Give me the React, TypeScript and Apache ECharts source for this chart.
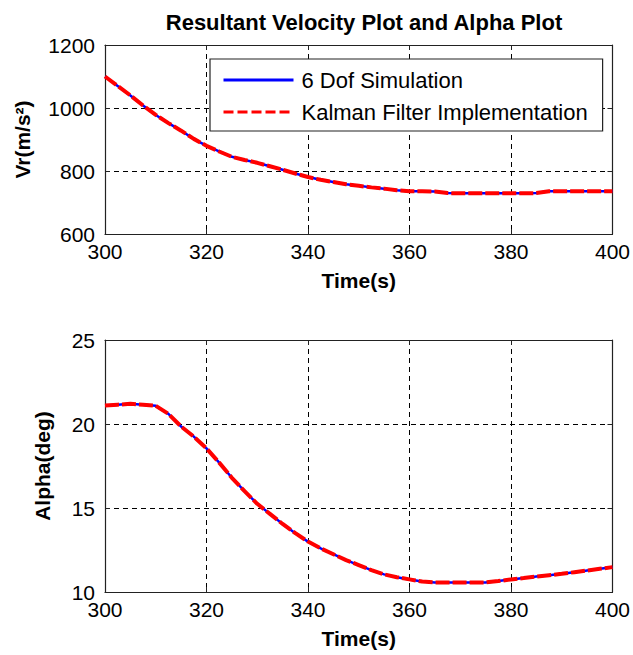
import React, { useEffect, useRef } from "react";
import * as echarts from "echarts";

const times = [
  300, 302.5, 305, 307.5, 310, 312.5, 315, 317.5, 320, 322.5, 325, 327.5, 330, 332.5, 335, 337.5,
  340, 342.5, 345, 347.5, 350, 352.5, 355, 357.5, 360, 362.5, 365, 367.5, 370, 372.5, 375, 377.5,
  380, 382.5, 385, 387.5, 390, 392.5, 395, 397.5, 400,
];

const vrSim = [
  1100, 1070, 1040, 1008, 978, 952, 928, 902, 880, 862, 845, 835, 826, 815, 804, 792,
  781, 772, 765, 758, 753, 748, 744, 739, 736, 736, 735, 730, 729, 729, 729, 729,
  729, 729, 730, 736, 736, 736, 736, 736, 736,
];
const vrKalman = vrSim.slice();

const alphaSim = [
  21.1, 21.15, 21.2, 21.15, 21.08, 20.6, 19.85, 19.25, 18.55, 17.7, 16.8, 16.0, 15.25, 14.65, 14.05, 13.5,
  13.0, 12.6, 12.25, 11.9, 11.6, 11.3, 11.05, 10.88, 10.75, 10.62, 10.57, 10.57, 10.57, 10.57, 10.57, 10.65,
  10.75, 10.83, 10.92, 11.0, 11.08, 11.18, 11.28, 11.38, 11.48,
];
const alphaKalman = alphaSim.slice();

const xTicks = { min: 300, max: 400, interval: 20 };
const vrTicks = { min: 600, max: 1200, interval: 200 };
const alphaTicks = { min: 10, max: 25, interval: 5 };

const seriesNames = ["6 Dof Simulation", "Kalman Filter Implementation"];
const titleText = "Resultant Velocity Plot and Alpha Plot";

const FONT = "'Liberation Sans', Arial, Helvetica, sans-serif";

const pairs = (xs: number[], ys: number[]) => xs.map((x, i) => [x, ys[i]]);

export default function App() {
  const ref = useRef<HTMLDivElement>(null);

  useEffect(() => {
    if (!ref.current) return;
    const chart = echarts.init(ref.current, undefined, { renderer: "svg" });

    const split = { show: true, lineStyle: { color: "#000", type: [5, 4] as any, width: 1 } };
    const line = { show: true, lineStyle: { color: "#222", width: 1.2 } };
    const tick = { show: true, inside: true, length: 5, lineStyle: { color: "#222", width: 1 } };
    const label = {
      color: "#000",
      fontSize: 21,
      fontFamily: FONT,
      formatter: (v: number) => String(v),
    };
    const nameStyle = { color: "#000", fontSize: 21, fontWeight: "bold" as const, fontFamily: FONT };

    const mainX = (gridIndex: number) => ({
      type: "value" as const,
      gridIndex,
      position: "bottom" as const,
      ...xTicks,
      axisLine: line,
      axisTick: tick,
      splitLine: split,
      axisLabel: { ...label, margin: 7 },
      name: "Time(s)",
      nameLocation: "middle" as const,
      nameGap: 36,
      nameTextStyle: nameStyle,
    });
    const topX = (gridIndex: number) => ({
      type: "value" as const,
      gridIndex,
      position: "top" as const,
      ...xTicks,
      axisLine: line,
      axisTick: tick,
      splitLine: { show: false },
      axisLabel: { show: false },
    });
    const mainY = (gridIndex: number, ticks: any, name: string, nameGap: number) => ({
      type: "value" as const,
      gridIndex,
      position: "left" as const,
      ...ticks,
      axisLine: line,
      axisTick: tick,
      splitLine: split,
      axisLabel: { ...label, margin: 10 },
      name,
      nameLocation: "middle" as const,
      nameGap,
      nameTextStyle: nameStyle,
    });
    const rightY = (gridIndex: number, ticks: any) => ({
      type: "value" as const,
      gridIndex,
      position: "right" as const,
      ...ticks,
      axisLine: line,
      axisTick: tick,
      splitLine: { show: false },
      axisLabel: { show: false },
    });

    const blue = { color: "#0000ff", width: 2.5, type: "solid" as const };
    const red = { color: "#ff0000", width: 4, type: [14, 3] as any };

    const mk = (name: string, xi: number, yi: number, data: number[][], ls: any, z: number) => ({
      type: "line" as const,
      name,
      xAxisIndex: xi,
      yAxisIndex: yi,
      data,
      showSymbol: false,
      symbol: "none",
      lineStyle: ls,
      itemStyle: { color: ls.color },
      z,
    });

    chart.setOption({
      animation: false,
      backgroundColor: "#fff",
      title: {
        text: titleText,
        left: 359,
        top: 6,
        textAlign: "center",
        textStyle: { color: "#000", fontSize: 22, fontWeight: "bold", fontFamily: FONT },
      },
      legend: {
        orient: "vertical",
        left: 210,
        top: 59,
        padding: [10, 15, 8, 12],
        itemWidth: 70,
        itemHeight: 14,
        itemGap: 10,
        backgroundColor: "#fff",
        borderColor: "#222",
        borderWidth: 1.2,
        borderRadius: 0,
        itemStyle: { opacity: 0, borderWidth: 0 },
        textStyle: { color: "#000", fontSize: 22, lineHeight: 22, fontFamily: FONT, padding: [0, 0, 0, 3] },
        data: [
          { name: seriesNames[0], lineStyle: { color: "#0000ff", width: 3, type: "solid" } },
          { name: seriesNames[1], lineStyle: { color: "#ff0000", width: 3, type: [10, 4] } },
        ],
      },
      grid: [
        { left: 105, top: 45, width: 509, height: 189, containLabel: false },
        { left: 105, top: 340, width: 509, height: 252, containLabel: false },
      ],
      xAxis: [mainX(0), topX(0), mainX(1), topX(1)],
      yAxis: [
        mainY(0, vrTicks, "Vr(m/s²)", 72),
        rightY(0, vrTicks),
        mainY(1, alphaTicks, "Alpha(deg)", 52),
        rightY(1, alphaTicks),
      ],
      series: [
        mk(seriesNames[0], 0, 0, pairs(times, vrSim), blue, 2),
        mk(seriesNames[1], 0, 0, pairs(times, vrKalman), red, 3),
        mk(seriesNames[0], 2, 2, pairs(times, alphaSim), blue, 2),
        mk(seriesNames[1], 2, 2, pairs(times, alphaKalman), red, 3),
      ],
    });

    return () => chart.dispose();
  }, []);

  return (
    <div
      ref={ref}
      style={{ position: "fixed", left: 0, top: 0, width: 633, height: 655, background: "#fff" }}
    />
  );
}
